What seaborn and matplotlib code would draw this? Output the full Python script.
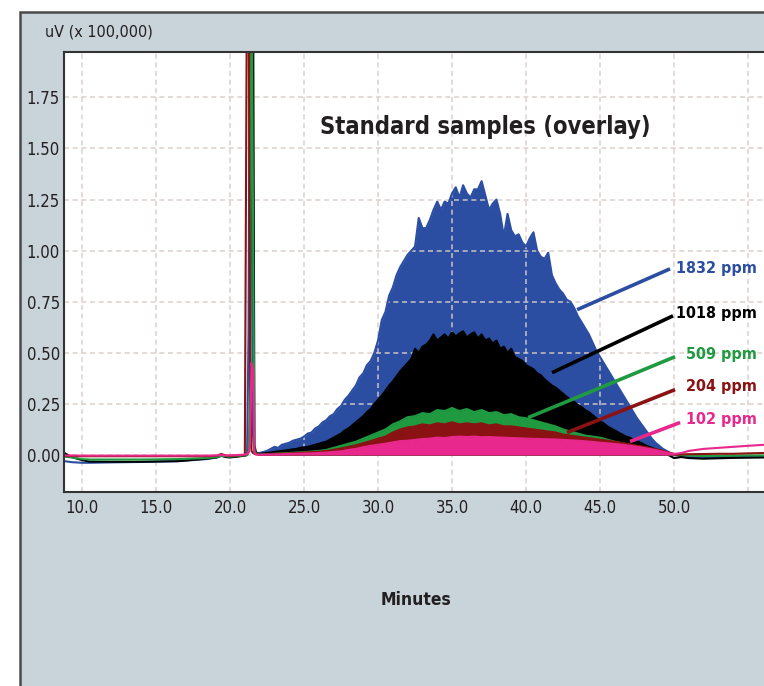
import numpy as np
import pandas as pd
import matplotlib
matplotlib.use("Agg")
import matplotlib.pyplot as plt
import matplotlib.font_manager as fm
from matplotlib.patches import Rectangle
import seaborn as sns

# ---------------- data ----------------
sample_names = ["1832 ppm", "1018 ppm", "509 ppm", "204 ppm", "102 ppm"]
sample_colors = ["#2b4ea3", "#000000", "#1f9a40", "#8a1212", "#e8288c"]

pre_minutes = [8.8, 9.3, 10.0, 10.5, 12.0, 14.0, 16.5, 18.4, 19.1, 19.4, 19.7,
               20.0, 20.5, 21.0, 21.15, 21.25, 21.35, 21.45, 21.55, 21.65, 21.75, 21.9]
pre_1832 = [-0.030, -0.035, -0.038, -0.038, -0.036, -0.034, -0.030, -0.020, -0.012, -0.005, -0.008,
            -0.010, -0.006, -0.002, 0.000, 0.600, 2.500, 2.500, 0.100, 0.012, 0.010, 0.010]
pre_1018 = [0.010, -0.010, -0.025, -0.032, -0.033, -0.033, -0.030, -0.018, -0.012, -0.002, -0.010,
            -0.012, -0.008, -0.003, 0.000, 0.020, 0.050, 2.500, 2.500, 0.050, 0.012, 0.008]
pre_509 = [-0.008, -0.012, -0.020, -0.022, -0.022, -0.022, -0.020, -0.015, -0.010, -0.004, -0.006,
           -0.008, -0.005, -0.002, 0.000, 0.020, 0.300, 2.500, 1.200, 0.010, 0.008, 0.006]
pre_204 = [-0.005, -0.005, -0.006, -0.006, -0.006, -0.006, -0.006, -0.006, -0.004, 0.005, -0.002,
           -0.004, -0.002, 0.000, 2.500, 2.500, 0.500, 0.020, 0.010, 0.006, 0.004, 0.003]
pre_102 = [-0.002, -0.002, -0.003, -0.003, -0.003, -0.003, -0.003, -0.003, -0.002, 0.000, -0.002,
           -0.002, 0.000, 0.002, 0.005, 0.010, 0.050, 0.450, 0.420, 0.010, 0.003, 0.002]

# hump, fine grid (every 0.25 min from 22.0 to 50.0)
fine_minutes = np.arange(22.0, 50.001, 0.25)
hump_1832 = [0.010, 0.015, 0.020, 0.030, 0.040, 0.035, 0.050, 0.055, 0.060, 0.070, 0.075, 0.080,
             0.090, 0.105, 0.110, 0.130, 0.140, 0.160, 0.170, 0.190, 0.200, 0.225, 0.240, 0.270,
             0.290, 0.315, 0.340, 0.380, 0.400, 0.440, 0.460, 0.500, 0.560, 0.660, 0.700, 0.780,
             0.820, 0.880, 0.920, 0.950, 0.980, 1.000, 1.020, 1.160, 1.110, 1.110, 1.150, 1.200,
             1.240, 1.200, 1.240, 1.230, 1.280, 1.310, 1.260, 1.320, 1.280, 1.260, 1.300, 1.300,
             1.340, 1.270, 1.200, 1.230, 1.250, 1.180, 1.070, 1.180, 1.100, 1.070, 1.080, 1.040,
             1.020, 1.060, 1.090, 1.000, 0.970, 0.960, 0.990, 0.880, 0.840, 0.810, 0.790, 0.760,
             0.750, 0.720, 0.680, 0.650, 0.620, 0.590, 0.550, 0.510, 0.480, 0.450, 0.420, 0.390,
             0.360, 0.330, 0.300, 0.270, 0.240, 0.210, 0.180, 0.155, 0.130, 0.105, 0.080, 0.060,
             0.045, 0.030, 0.020, 0.010, 0.000]
hump_1018 = [0.005, 0.008, 0.010, 0.012, 0.015, 0.018, 0.020, 0.022, 0.025, 0.028, 0.030, 0.035,
             0.038, 0.040, 0.045, 0.050, 0.055, 0.060, 0.065, 0.075, 0.085, 0.095, 0.105, 0.120,
             0.130, 0.145, 0.160, 0.175, 0.190, 0.210, 0.225, 0.250, 0.270, 0.290, 0.315, 0.340,
             0.360, 0.385, 0.410, 0.430, 0.450, 0.470, 0.520, 0.500, 0.530, 0.540, 0.560, 0.590,
             0.560, 0.575, 0.590, 0.570, 0.600, 0.580, 0.595, 0.605, 0.575, 0.590, 0.600, 0.570,
             0.590, 0.560, 0.570, 0.545, 0.560, 0.520, 0.530, 0.500, 0.520, 0.480, 0.470, 0.460,
             0.440, 0.430, 0.420, 0.400, 0.390, 0.370, 0.355, 0.340, 0.330, 0.315, 0.300, 0.285,
             0.270, 0.260, 0.245, 0.235, 0.220, 0.210, 0.195, 0.180, 0.165, 0.155, 0.140, 0.130,
             0.120, 0.110, 0.100, 0.090, 0.085, 0.075, 0.068, 0.060, 0.050, 0.042, 0.035, 0.028,
             0.020, 0.012, 0.005, -0.005, -0.015]

# hump, coarse grid (every 0.5 min from 22.0 to 50.0)
coarse_minutes = np.arange(22.0, 50.001, 0.5)
hump_509 = [0.002, 0.004, 0.006, 0.008, 0.010, 0.012, 0.014, 0.017, 0.020, 0.025, 0.035, 0.045,
            0.055, 0.065, 0.080, 0.095, 0.110, 0.125, 0.150, 0.165, 0.185, 0.190, 0.205, 0.200,
            0.220, 0.215, 0.230, 0.215, 0.225, 0.210, 0.220, 0.205, 0.210, 0.195, 0.200, 0.185,
            0.180, 0.170, 0.160, 0.150, 0.140, 0.125, 0.115, 0.105, 0.095, 0.090, 0.085, 0.075,
            0.065, 0.058, 0.050, 0.042, 0.035, 0.028, 0.020, 0.012, 0.004]
hump_204 = [0.002, 0.003, 0.005, 0.006, 0.008, 0.010, 0.012, 0.014, 0.016, 0.020, 0.025, 0.032,
            0.040, 0.048, 0.058, 0.068, 0.080, 0.090, 0.110, 0.125, 0.135, 0.140, 0.150, 0.145,
            0.155, 0.150, 0.160, 0.150, 0.155, 0.150, 0.155, 0.145, 0.150, 0.140, 0.140, 0.135,
            0.130, 0.125, 0.120, 0.115, 0.110, 0.100, 0.095, 0.090, 0.085, 0.080, 0.075, 0.070,
            0.065, 0.058, 0.052, 0.046, 0.040, 0.032, 0.025, 0.015, 0.005]
hump_102 = [0.001, 0.002, 0.003, 0.004, 0.005, 0.006, 0.007, 0.008, 0.010, 0.012, 0.015, 0.018,
            0.025, 0.030, 0.038, 0.045, 0.050, 0.055, 0.062, 0.068, 0.070, 0.074, 0.078, 0.080,
            0.085, 0.083, 0.088, 0.090, 0.088, 0.090, 0.087, 0.088, 0.086, 0.085, 0.083, 0.082,
            0.080, 0.079, 0.078, 0.077, 0.076, 0.074, 0.072, 0.070, 0.067, 0.064, 0.060, 0.057,
            0.054, 0.050, 0.045, 0.040, 0.034, 0.028, 0.020, 0.012, 0.005]

post_minutes = [50.5, 51.0, 52.0, 53.0, 54.0, 55.0, 56.1]
post_1832 = [-0.005, -0.010, -0.012, -0.010, -0.010, -0.008, -0.008]
post_1018 = [-0.010, -0.015, -0.018, -0.016, -0.014, -0.013, -0.012]
post_509 = [0.000, -0.003, -0.005, -0.004, -0.003, -0.002, -0.002]
post_204 = [0.003, 0.004, 0.005, 0.006, 0.006, 0.008, 0.010]
post_102 = [0.010, 0.020, 0.030, 0.035, 0.040, 0.045, 0.050]

x_ticks = [10, 15, 20, 25, 30, 35, 40, 45, 50, 55]
x_tick_labels = ["10.0", "15.0", "20.0", "25.0", "30.0", "35.0", "40.0", "45.0", "50.0", ""]
y_ticks = [0.0, 0.25, 0.5, 0.75, 1.0, 1.25, 1.5, 1.75]
y_tick_labels = ["0.00", "0.25", "0.50", "0.75", "1.00", "1.25", "1.50", "1.75"]

# ---------------- build long-form table ----------------
hump_grids = [fine_minutes, fine_minutes, coarse_minutes, coarse_minutes, coarse_minutes]
pres = [pre_1832, pre_1018, pre_509, pre_204, pre_102]
humps = [hump_1832, hump_1018, hump_509, hump_204, hump_102]
posts = [post_1832, post_1018, post_509, post_204, post_102]
frames = []
for name, grid, pre, hump, post in zip(sample_names, hump_grids, pres, humps, posts):
    t = np.concatenate([pre_minutes, grid, post_minutes])
    v = np.concatenate([pre, hump, post])
    frames.append(pd.DataFrame({"minutes": t, "uV": v, "sample": name}))
df = pd.concat(frames, ignore_index=True)

# ---------------- fonts ----------------
sns.set_theme(style="white")
names = {f.name for f in fm.fontManager.ttflist}
cond_stretch = "normal"
if "Liberation Sans Narrow" in names:
    fam = "Liberation Sans Narrow"
elif any(f.name == "DejaVu Sans" and "Condensed" in f.fname for f in fm.fontManager.ttflist):
    fam = "DejaVu Sans"
    cond_stretch = "condensed"
else:
    fam = "Roboto" if "Roboto" in names else "DejaVu Sans"
plt.rcParams["font.family"] = [fam, "DejaVu Sans"]
plt.rcParams["font.stretch"] = cond_stretch

# ---------------- figure ----------------
W, H = 764, 686
fig = plt.figure(figsize=(W / 100, H / 100), dpi=100, facecolor="white")
panel = Rectangle((20 / W, -0.01), 1.0, (H - 12) / H + 0.01, transform=fig.transFigure,
                  facecolor="#c8d3da", edgecolor="#4a4a4a", linewidth=1.8, zorder=-10)
fig.patches.append(panel)

ax = fig.add_axes([64 / W, (H - 492) / H, (W - 64) / W, (492 - 52) / H])
ax.set_zorder(5)
ax.set_facecolor("white")

palette = dict(zip(sample_names, sample_colors))
for i, name in enumerate(sample_names):
    sub = df[df["sample"] == name]
    t = sub["minutes"].to_numpy()
    v = sub["uV"].to_numpy()
    in_hump = (t >= 21.8) & (t <= 50.0) & (v > 0)
    ax.fill_between(t, 0, v, where=in_hump, interpolate=True,
                    color=palette[name], linewidth=0, zorder=2 + i * 2)
    sns.lineplot(data=sub, x="minutes", y="uV", color=palette[name], estimator=None,
                 sort=False, linewidth=1.5, ax=ax, zorder=3 + i * 2, legend=False)

ax.set_xlim(8.78, 56.08)
ax.set_ylim(-0.181, 1.972)
ax.set_xticks(x_ticks)
ax.set_xticklabels(x_tick_labels)
ax.set_yticks(y_ticks)
ax.set_yticklabels(y_tick_labels)
ax.tick_params(axis="both", length=0, labelsize=12, colors="#231f20")
ax.tick_params(axis="x", pad=5)
ax.tick_params(axis="y", pad=3)
ax.set_xlabel("")
ax.set_ylabel("")
ax.set_axisbelow(False)
ax.grid(True, color="#d8cdc8", linestyle=(0, (3, 2.2)), linewidth=1.2, alpha=0.85)
for gl in ax.get_xgridlines() + ax.get_ygridlines():
    gl.set_zorder(14)
for s in ["left", "top", "bottom"]:
    ax.spines[s].set_visible(True)
    ax.spines[s].set_color("#333333")
    ax.spines[s].set_linewidth(1.5)
    ax.spines[s].set_zorder(30)
ax.spines["right"].set_visible(False)

# leader lines and labels
leaders = [
    ((43.45, 0.711), (49.73, 0.911), 0.911),
    ((41.76, 0.403), (49.93, 0.681), 0.691),
    ((40.14, 0.183), (50.07, 0.481), 0.491),
    ((42.77, 0.110), (50.07, 0.320), 0.334),
    ((47.03, 0.066), (50.41, 0.159), 0.173),
]
for (p0, p1, ty), name in zip(leaders, sample_names):
    ax.plot([p0[0], p1[0]], [p0[1], p1[1]], color=palette[name], linewidth=2.6,
            solid_capstyle="butt", zorder=20)
    ax.text(55.61, ty, name, color=palette[name], fontsize=11.5, fontweight="bold",
            ha="right", va="center", zorder=21)

ax.text(37.23, 1.604, "Standard samples (overlay)", fontsize=17, fontweight="bold",
        color="#231f20", ha="center", va="center", zorder=21)

fig.text(45 / W, 1 - 32 / H, "uV (x 100,000)", fontsize=11.5, color="#231f20",
         ha="left", va="center")
fig.text(416 / W, 1 - 600 / H, "Minutes", fontsize=12.5, fontweight="bold",
         color="#231f20", ha="center", va="center")

fig.savefig("out.png", dpi=100, facecolor="white")
